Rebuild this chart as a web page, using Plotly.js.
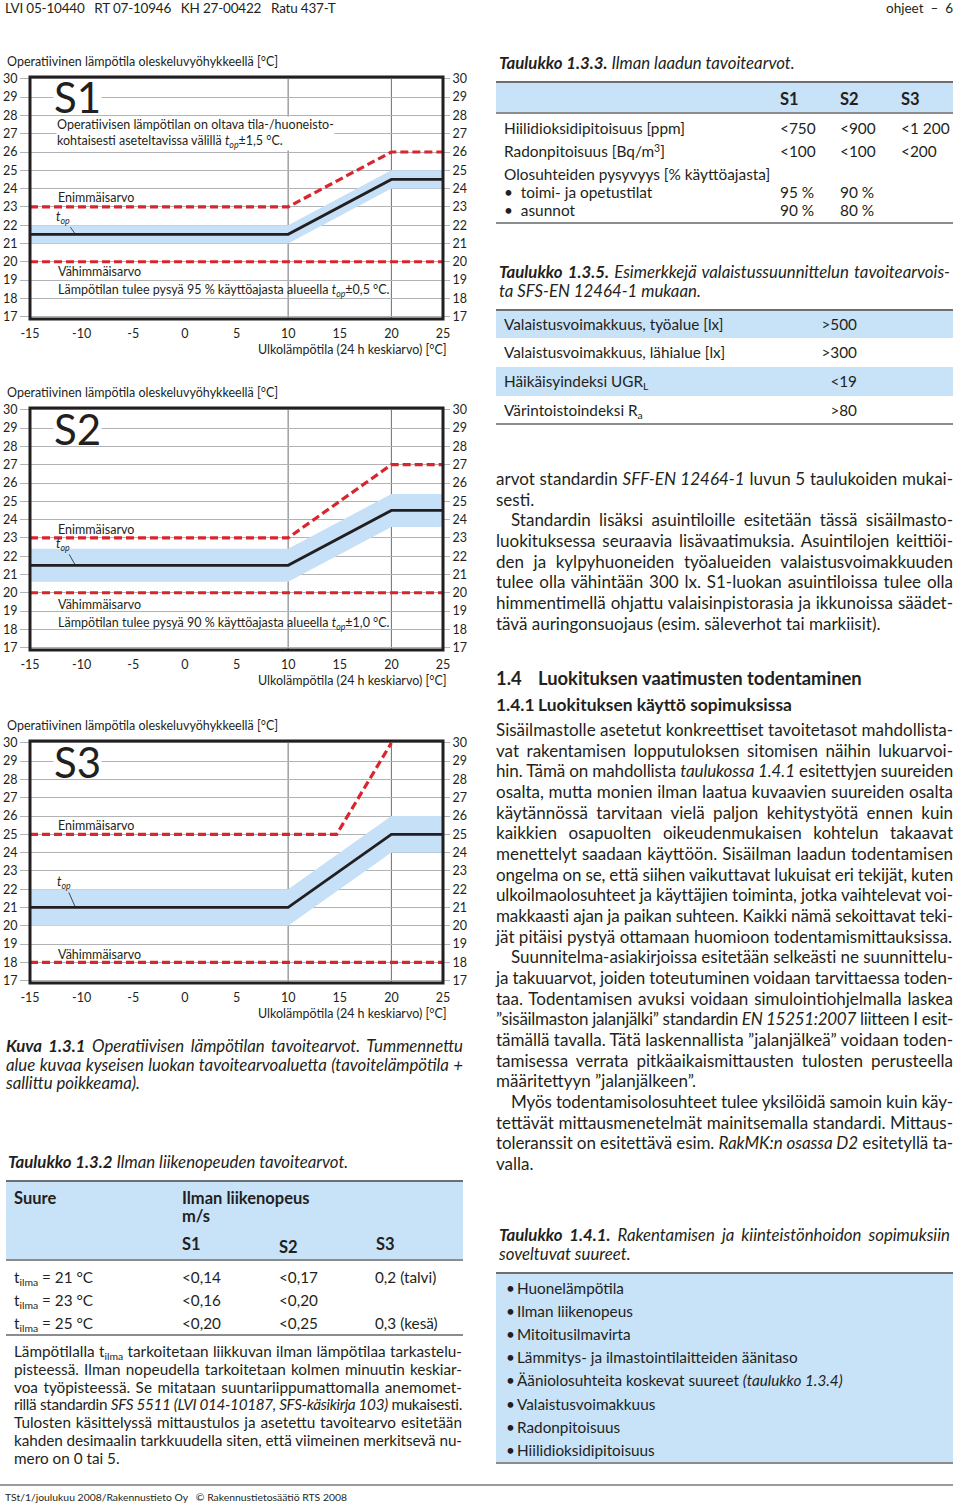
<!DOCTYPE html>
<html><head><meta charset="utf-8">
<script src="https://cdn.plot.ly/plotly-3.0.1.min.js"></script>
<style>
body{margin:0;background:#fff;}
#page{position:relative;width:960px;height:1504px;overflow:hidden;font-family:Lato,"Open Sans",sans-serif;color:#231f20;background:#fff;}
sub{font-size:0.68em;vertical-align:-0.3em;line-height:0;}
sup{font-size:0.68em;vertical-align:0.45em;line-height:0;}
</style></head><body><div id="page"></div>
<script>
// ---------------- chart data ----------------
const outdoorTemp = [-15, 10, 20, 25];
const xTicks = [-15, -10, -5, 0, 5, 10, 15, 20, 25];
const xTickLabels = ['-15', '-10', '-5', '0', '5', '10', '15', '20', '25'];
const yTicks = [17, 18, 19, 20, 21, 22, 23, 24, 25, 26, 27, 28, 29, 30];

const s1Target = [21.5, 21.5, 24.5, 24.5];
const s1BandLow = [21.0, 21.0, 24.0, 24.0];
const s1BandHigh = [22.0, 22.0, 25.0, 25.0];
const s1MaxX = [-15, 10, 20, 25];
const s1Max = [23, 23, 26, 26];
const s1Min = [20, 20, 20, 20];

const s2Target = [21.5, 21.5, 24.5, 24.5];
const s2BandLow = [20.6, 20.6, 23.6, 23.6];
const s2BandHigh = [22.4, 22.4, 25.4, 25.4];
const s2MaxX = [-15, 10, 20, 25];
const s2Max = [23, 23, 27, 27];
const s2Min = [20, 20, 20, 20];

const s3Target = [21, 21, 25, 25];
const s3BandLow = [20, 20, 24, 24];
const s3BandHigh = [22, 22, 26, 26];
const s3MaxX = [-15, 14.7, 20];
const s3Max = [25, 25, 30];
const s3Min = [18, 18, 18, 18];

// ---------------- table data ----------------
const airQualityClasses = ['S1', 'S2', 'S3'];
const airQualityLabels = ['Hiilidioksidipitoisuus [ppm]', 'Radonpitoisuus [Bq/m<sup>3</sup>]', 'Olosuhteiden pysyvyys [% käyttöajasta]', '•&nbsp; toimi- ja opetustilat', '•&nbsp; asunnot'];
const airQualityValues = [['<750', '<900', '<1 200'], ['<100', '<100', '<200'], ['', '', ''], ['95 %', '90 %', ''], ['90 %', '80 %', '']];

const lightingLabels = ['Valaistusvoimakkuus, työalue [lx]', 'Valaistusvoimakkuus, lähialue [lx]', 'Häikäisyindeksi UGR<sub>L</sub>', 'Värintoistoindeksi R<sub>a</sub>'];
const lightingValues = ['>500', '>300', '<19', '>80'];

const airSpeedClasses = ['S1', 'S2', 'S3'];
const airSpeedLabels = ['t<sub>ilma</sub> = 21 °C', 't<sub>ilma</sub> = 23 °C', 't<sub>ilma</sub> = 25 °C'];
const airSpeedValues = [['<0,14', '<0,17', '0,2 (talvi)'], ['<0,16', '<0,20', ''], ['<0,20', '<0,25', '0,3 (kesä)']];

const contractItems = ['Huonelämpötila', 'Ilman liikenopeus', 'Mitoitusilmavirta', 'Lämmitys- ja ilmastointilaitteiden äänitaso', 'Ääniolosuhteita koskevat suureet <i>(taulukko 1.3.4)</i>', 'Valaistusvoimakkuus', 'Radonpitoisuus', 'Hiilidioksidipitoisuus'];

// ---------------- helpers ----------------
const page = document.getElementById('page');
const BLUE = '#c8e2f8', INK = '#231f20', RULE = '#6d6e71', BAND = '#c6e0f7', RED = '#d7262e';
function esc(s){return s.replace(/&/g,'&amp;').replace(/</g,'&lt;').replace(/>/g,'&gt;');}
function el(css, html){const d=document.createElement('div');d.style.cssText='position:absolute;'+css;if(html!=null)d.innerHTML=html;page.appendChild(d);return d;}
function txt(x,yc,html,size,extra){const lh=Math.round(size*1.4);return el(`left:${x}px;top:${yc-lh/2}px;line-height:${lh}px;font-size:${size}px;white-space:nowrap;${extra||''}`,html);}
function rtxt(xr,yc,html,size,extra){const d=txt(0,yc,html,size,extra);d.style.left=(xr-d.getBoundingClientRect().width)+'px';return d;}
function hline(x1,x2,y,w,c){el(`left:${x1}px;top:${y-w/2}px;width:${x2-x1}px;height:${w}px;background:${c}`);}
function box(x1,y1,x2,y2,c){el(`left:${x1}px;top:${y1}px;width:${x2-x1}px;height:${y2-y1}px;background:${c}`);}
function jtxt(x,yc,width,html,size,extra){
  const d=txt(x,yc,html,size,extra);
  const w=d.getBoundingClientRect().width;
  const n=(d.textContent.match(/ /g)||[]).length;
  let diff=width-w;
  if(diff<0){
    // compress letters rather than squeezing the gaps between words
    const chars=d.textContent.length;
    d.style.letterSpacing=(diff/chars)+'px';
    const w2=d.getBoundingClientRect().width;
    diff=width-w2;
  }
  if(n)d.style.wordSpacing=(diff/n)+'px';
  return d;
}
function para(lines,x,width,y0,lh,size,extra,indent){
  lines.forEach((s,i)=>{let ind=0,last=false;
    if(s.startsWith('\t')){ind=indent||0;s=s.slice(1);}
    if(s.endsWith('\n')){last=true;s=s.slice(0,-1);}
    const yc=y0+i*lh;
    if(last) txt(x+ind,yc,s,size,extra); else jtxt(x+ind,yc,width-ind,s,size,extra);
  });
}

// ---------------- header / footer ----------------
txt(5, 8, 'LVI 05-10440&nbsp;&nbsp; RT 07-10946&nbsp;&nbsp; KH 27-00422&nbsp;&nbsp; Ratu 437-T', 13.5, 'letter-spacing:-0.2px');
rtxt(953, 8, 'ohjeet&nbsp; –&nbsp; 6', 13.5);
hline(0, 953, 1485, 1.2, '#9a9b9d');
txt(5, 1497, 'TSt/1/joulukuu 2008/Rakennustieto Oy&nbsp;&nbsp; © Rakennustietosäätiö RTS 2008', 10.4);

// ---------------- charts ----------------
function makeChart(top, cfg){
  const div = el(`left:0;top:${top}px;width:480px;height:314px;`);
  const yr = [16.87, 30.1];
  const traces = [
    {x: outdoorTemp, y: cfg.bandLow, mode:'lines', line:{width:0, color:'rgba(0,0,0,0)'}, hoverinfo:'skip'},
    {x: outdoorTemp, y: cfg.bandHigh, mode:'lines', fill:'tonexty', fillcolor: BAND, line:{width:0, color:'rgba(0,0,0,0)'}, hoverinfo:'skip'},
    {x: outdoorTemp, y: cfg.min, mode:'lines', line:{color:RED, width:3.2, dash:'8px,4px'}},
    {x: cfg.maxX, y: cfg.max, mode:'lines', line:{color:RED, width:3.2, dash:'8px,4px'}},
    {x: outdoorTemp, y: cfg.target, mode:'lines', line:{color:INK, width:2.8}},
    {x: outdoorTemp, y: cfg.min, mode:'lines', line:{width:0, color:'rgba(0,0,0,0)'}, yaxis:'y2', hoverinfo:'skip'}
  ];
  const shapes = outdoorTemp.slice(1, -1).map(v => ({type:'line', xref:'x', yref:'paper', x0:v, x1:v, y0:0, y1:1, line:{color:'#6d6e71', width:1}, layer:'between'}));
  shapes.push({type:'rect', xref:'paper', yref:'paper', x0:0, x1:1, y0:0, y1:1, line:{color:INK, width:3}, layer:'above'});
  const F = {family:'Lato', size:12.5, color:INK};
  const ann = [
    {xref:'paper', yref:'paper', x:-0.0605, y:1.065, xanchor:'left', yanchor:'middle', showarrow:false, text:'Operatiivinen lämpötila oleskeluvyöhykkeellä [°C]', font:F},
    {xref:'paper', yref:'paper', x:1.0145, y:-0.128, xanchor:'right', yanchor:'middle', showarrow:false, text:'Ulkolämpötila (24 h keskiarvo) [°C]', font:F},
    {x:-12.75, y:cfg.labelY, xanchor:'left', yanchor:'middle', showarrow:false, text:cfg.label, font:{family:'Lato', size:42, color:INK}, bgcolor:'#fff', height:32, borderpad:0},
    {x:-12.5, y:cfg.maxLabelY, xanchor:'left', yanchor:'middle', showarrow:false, text:'Enimmäisarvo', font:F},
    {x:-12.5, y:cfg.minLabelY, xanchor:'left', yanchor:'middle', showarrow:false, text:'Vähimmäisarvo', font:F},
    {x:-10.6, y:cfg.target[0], ax:cfg.topAx, ay:cfg.topAy, showarrow:true, arrowhead:0, arrowwidth:0.8, arrowcolor:INK, standoff:0, text:'<i>t<sub>op</sub></i>', font:F}
  ];
  if (cfg.desc) ann.push({x:-12.5, y:cfg.descY, xanchor:'left', yanchor:'middle', align:'left', showarrow:false, text:cfg.desc, font:F, bgcolor:'#fff', borderpad:0});
  if (cfg.note) ann.push({x:-12.5, y:cfg.noteY, xanchor:'left', yanchor:'middle', showarrow:false, text:cfg.note, font:F});
  const layout = {
    width:480, height:314, margin:{l:30, r:37, t:27, b:45},
    paper_bgcolor:'rgba(0,0,0,0)', plot_bgcolor:'#fff', showlegend:false,
    font:F,
    xaxis:{range:[-15,25], tickvals:xTicks, ticktext:xTickLabels, showgrid:false, zeroline:false, showline:false, ticks:'outside', ticklen:3, tickcolor:'rgba(0,0,0,0)', tickfont:{family:'Lato', size:12.5, color:INK}},
    yaxis:{range:yr, tickvals:yTicks, showgrid:true, gridcolor:'#b1b3b6', gridwidth:1, zeroline:false, showline:false, ticks:'outside', ticklen:9, tickcolor:'#b1b3b6', tickfont:{family:'Lato', size:12.5, color:INK}},
    yaxis2:{overlaying:'y', side:'right', range:yr, tickvals:yTicks, showgrid:false, zeroline:false, showline:false, ticks:'outside', ticklen:6, tickcolor:'#b1b3b6', tickfont:{family:'Lato', size:12.5, color:INK}},
    shapes: shapes, annotations: ann
  };
  Plotly.newPlot(div, traces, layout, {staticPlot:true, displayModeBar:false});
}

makeChart(50, {label:'S1', labelY:29.0, target:s1Target, bandLow:s1BandLow, bandHigh:s1BandHigh, maxX:s1MaxX, max:s1Max, min:s1Min,
  maxLabelY:23.49, minLabelY:19.45, topAx:-12, topAy:-17,
  desc:'Operatiivisen lämpötilan on oltava tila-/huoneisto-<br>kohtaisesti aseteltavissa välillä <i>t<sub>op</sub></i>±1,5 °C.', descY:27.0,
  note:'Lämpötilan tulee pysyä 95 % käyttöajasta alueella <i>t<sub>op</sub></i>±0,5 °C.', noteY:18.45});
makeChart(381, {label:'S2', labelY:28.95, target:s2Target, bandLow:s2BandLow, bandHigh:s2BandHigh, maxX:s2MaxX, max:s2Max, min:s2Min,
  maxLabelY:23.44, minLabelY:19.38, topAx:-12, topAy:-21,
  note:'Lämpötilan tulee pysyä 90 % käyttöajasta alueella <i>t<sub>op</sub></i>±1,0 °C.', noteY:18.34});
makeChart(714, {label:'S3', labelY:28.96, target:s3Target, bandLow:s3BandLow, bandHigh:s3BandHigh, maxX:s3MaxX, max:s3Max, min:s3Min,
  maxLabelY:25.5, minLabelY:18.45, topAx:-11, topAy:-25});

// ---------------- left column below charts ----------------
para(['<b>Kuva 1.3.1</b> Operatiivisen lämpötilan tavoitearvot. Tummennettu',
      'alue kuvaa kyseisen luokan tavoitearvoaluetta (tavoitelämpötila +',
      'sallittu poikkeama).\n'], 6, 457, 1046, 18.5, 16.8, 'font-style:italic');
txt(8, 1162, '<b>Taulukko 1.3.2</b> Ilman liikenopeuden tavoitearvot.', 16.8, 'font-style:italic');
box(6, 1181, 463, 1260, BLUE);
hline(6, 463, 1181, 2, RULE);
hline(6, 463, 1260, 1.6, '#8a8c8e');
hline(6, 463, 1335, 1.4, '#8a8c8e');
txt(14, 1198, '<b>Suure</b>', 16.5);
txt(182, 1198, '<b>Ilman liikenopeus</b>', 16.5);
txt(182, 1216, '<b>m/s</b>', 16.5);
const speedColX = [182, 279, 376];
const speedHeadY = [1244, 1247, 1244];
airSpeedClasses.forEach((c,i)=>txt(speedColX[i], speedHeadY[i], '<b>'+c+'</b>', 16.5));
airSpeedLabels.forEach((l,r)=>{
  const yc = 1277 + r*23;
  txt(14, yc, l, 15.3);
  airSpeedValues[r].forEach((v,i)=>{ if(v) txt(speedColX[i]-(i===2?1:0), yc, esc(v), 15.3); });
});
para(['Lämpötilalla t<sub>ilma</sub> tarkoitetaan liikkuvan ilman lämpötilaa tarkastelu-',
      'pisteessä. Ilman nopeudella tarkoitetaan kolmen minuutin keskiar-',
      'voa työpisteessä. Se mitataan suuntariippumattomalla anemomet-',
      'rillä standardin <i>SFS 5511 (LVI 014-10187, SFS-käsikirja 103)</i> mukaisesti.',
      'Tulosten käsittelyssä mittaustulos ja asetettu tavoitearvo esitetään',
      'kahden desimaalin tarkkuudella siten, että viimeinen merkitsevä nu-',
      'mero on 0 tai 5.\n'], 14, 448, 1351.5, 17.8, 15.3);

// ---------------- right column ----------------
txt(499, 63, '<b>Taulukko 1.3.3.</b> Ilman laadun tavoitearvot.', 16.8, 'font-style:italic');
box(496, 82, 953, 113, BLUE);
hline(496, 953, 82, 2, RULE);
hline(496, 953, 113, 1.8, '#8a8c8e');
const aqColX = [780, 840, 901];
airQualityClasses.forEach((c,i)=>txt(aqColX[i], 99, '<b>'+c+'</b>', 16.5));
const aqRowY = [128, 151, 174, 192, 210];
airQualityLabels.forEach((l,r)=>{
  txt(504, aqRowY[r], l, 15.4);
  airQualityValues[r].forEach((v,i)=>{ if(v) txt(aqColX[i], aqRowY[r], esc(v), 15.4); });
});
hline(496, 953, 223, 1.5, '#8a8c8e');

para(['<b>Taulukko 1.3.5.</b> Esimerkkejä valaistussuunnittelun tavoitearvois-',
      'ta SFS-EN 12464-1 mukaan.\n'], 499, 451, 272, 18.5, 16.8, 'font-style:italic');
const lightRowTop = [311, 338, 367, 396, 424];
hline(496, 953, 310, 2, RULE);
lightingLabels.forEach((l,r)=>{
  if (r % 2 === 0) box(496, lightRowTop[r], 953, lightRowTop[r+1], BLUE);
  const yc = (lightRowTop[r] + lightRowTop[r+1]) / 2;
  txt(504, yc, l, 15.3);
  rtxt(857, yc, esc(lightingValues[r]), 15.3);
});
hline(496, 953, 424, 1.5, '#8a8c8e');

para(['arvot standardin <i>SFF-EN 12464-1</i> luvun 5 taulukoiden mukai-',
      'sesti.\n',
      '\tStandardin lisäksi asuintiloille esitetään tässä sisäilmasto-',
      'luokituksessa seuraavia lisävaatimuksia. Asuintilojen keittiöi-',
      'den ja kylpyhuoneiden työalueiden valaistusvoimakkuuden',
      'tulee olla vähintään 300 lx. S1-luokan asuintiloissa tulee olla',
      'himmentimellä ohjattu valaisinpistorasia ja ikkunoissa säädet-',
      'tävä auringonsuojaus (esim. säleverhot tai markiisit).\n'], 496, 457, 479, 20.67, 17, '', 15);

txt(496, 678, '<b>1.4</b>', 18.4);
txt(538, 678, '<b>Luokituksen vaatimusten todentaminen</b>', 18.4);
txt(496, 705, '<b>1.4.1</b>', 17.4);
txt(538, 705, '<b>Luokituksen käyttö sopimuksissa</b>', 17.4);

para(['Sisäilmastolle asetetut konkreettiset tavoitetasot mahdollista-',
      'vat rakentamisen lopputuloksen sitomisen näihin lukuarvoi-',
      'hin. Tämä on mahdollista <i>taulukossa 1.4.1</i> esitettyjen suureiden',
      'osalta, mutta monien ilman laatua kuvaavien suureiden osalta',
      'käytännössä tarvitaan vielä paljon kehitystyötä ennen kuin',
      'kaikkien osapuolten oikeudenmukaisen kohtelun takaavat',
      'menettelyt saadaan käyttöön. Sisäilman laadun todentamisen',
      'ongelma on se, että siihen vaikuttavat lukuisat eri tekijät, kuten',
      'ulkoilmaolosuhteet ja käyttäjien toiminta, jotka vaihtelevat voi-',
      'makkaasti ajan ja paikan suhteen. Kaikki nämä sekoittavat teki-',
      'jät pitäisi pystyä ottamaan huomioon todentamismittauksissa.\n',
      '\tSuunnitelma-asiakirjoissa esitetään selkeästi ne suunnittelu-',
      'ja takuuarvot, joiden toteutuminen voidaan tarvittaessa toden-',
      'taa. Todentamisen avuksi voidaan simulointiohjelmalla laskea',
      '”sisäilmaston jalanjälki” standardin <i>EN 15251:2007</i> liitteen I esit-',
      'tämällä tavalla. Tätä laskennallista ”jalanjälkeä” voidaan toden-',
      'tamisessa verrata pitkäaikaismittausten tulosten perusteella',
      'määritettyyn ”jalanjälkeen”.\n',
      '\tMyös todentamisolosuhteet tulee yksilöidä samoin kuin käy-',
      'tettävät mittausmenetelmät mainitsemalla standardi. Mittaus-',
      'toleranssit on esitettävä esim. <i>RakMK:n osassa D2</i> esitetyllä ta-',
      'valla.\n'], 496, 457, 730, 20.67, 17, '', 15);

para(['<b>Taulukko 1.4.1.</b> Rakentamisen ja kiinteistönhoidon sopimuksiin',
      'soveltuvat suureet.\n'], 499, 451, 1235, 19, 16.8, 'font-style:italic');
box(496, 1273, 953, 1463, BLUE);
hline(496, 953, 1273, 2, RULE);
hline(496, 953, 1463, 2, '#8a8c8e');
contractItems.forEach((t,i)=>{
  const yc = 1288 + i*23.2;
  txt(506, yc, '•', 15.3);
  txt(517, yc, t, 15.3);
});
</script></body></html>
